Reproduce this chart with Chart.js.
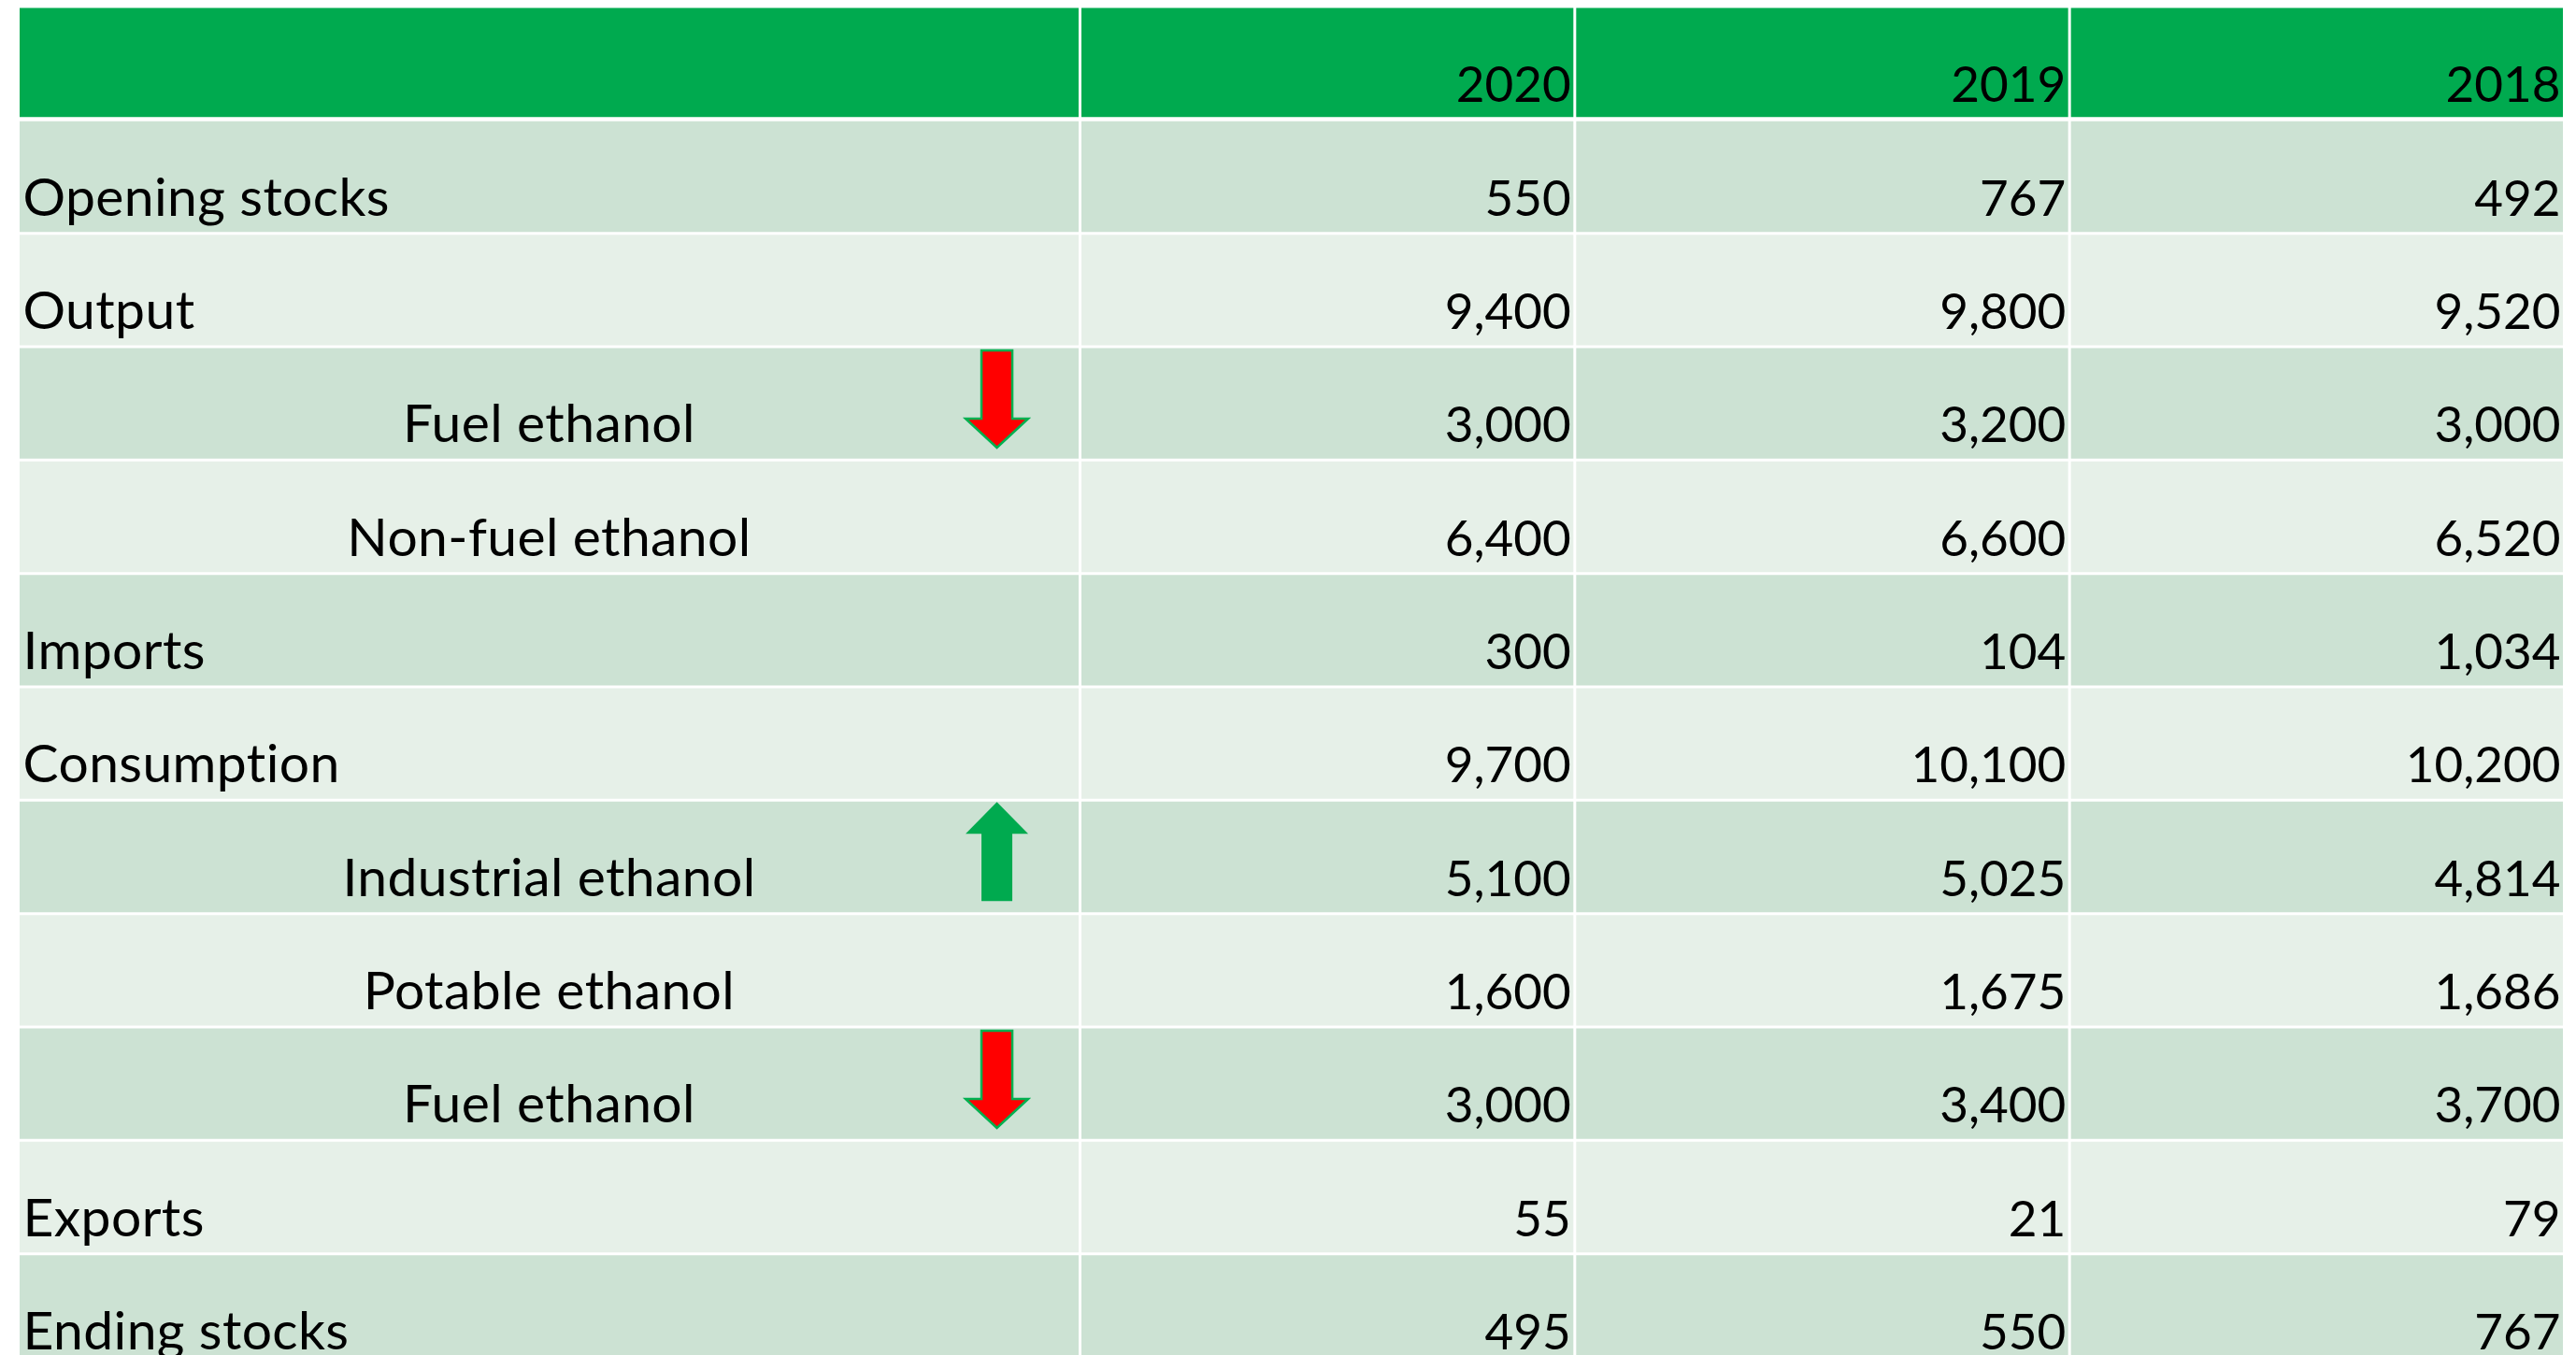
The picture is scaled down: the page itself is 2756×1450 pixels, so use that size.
<!DOCTYPE html>
<html>
<head>
<meta charset="utf-8">
<title>Ethanol balance</title>
<script src="https://cdn.jsdelivr.net/npm/chart.js@4.4.1/dist/chart.umd.min.js"></script>
<style>
  html, body { margin: 0; padding: 0; background: #ffffff; overflow: hidden; }
</style>
</head>
<body>
<canvas id="ethanolTable" width="2756" height="1463"></canvas>
<script>
// years across the top
const years = ["2020", "2019", "2018"];

// row names (indented ones are centred in the first column)
const rowLabels = [
  "Opening stocks",
  "Output",
  "Fuel ethanol",
  "Non-fuel ethanol",
  "Imports",
  "Consumption",
  "Industrial ethanol",
  "Potable ethanol",
  "Fuel ethanol",
  "Exports",
  "Ending stocks",
];
const subRows = [false, false, true, true, false, false, true, true, true, false, false];

// values per year column
const values2020 = [550, 9400, 3000, 6400, 300, 9700, 5100, 1600, 3000, 55, 495];
const values2019 = [767, 9800, 3200, 6600, 104, 10100, 5025, 1675, 3400, 21, 550];
const values2018 = [492, 9520, 3000, 6520, 1034, 10200, 4814, 1686, 3700, 79, 767];

// arrows beside the row names: 1 = up, -1 = down, 0 = none
const change2020 = [0, 0, -1, 0, 0, 0, 1, 0, -1, 0, 0];

const yearValues = [values2020, values2019, values2018];

// layout / style
const labelColWidth = 2.146; // first column width, in year-column units
const arrowAt = 1.978;       // arrow centre on the x scale
const headerGreen = "#00AA4F";
const darkRow = "#CCE2D3";
const lightRow = "#E6F0E8";
const labelFont = "57px Lato, 'Open Sans', sans-serif";
const numberFont = "53px Lato, 'Open Sans', sans-serif";

// one category per table row, header first
const rowKeys = ["header"].concat(rowLabels.map((_, i) => "row" + i));
const columnEdges = [0, labelColWidth, labelColWidth + 1, labelColWidth + 2, labelColWidth + 3];

// every cell is a floating bar spanning its column
const datasets = columnEdges.slice(0, -1).map((start, c) => ({
  data: rowKeys.map(() => [start, columnEdges[c + 1]]),
  backgroundColor: rowKeys.map((_, r) => (r === 0 ? headerGreen : r % 2 === 1 ? darkRow : lightRow)),
  borderColor: "#ffffff",
  borderWidth: rowKeys.map((_, r) =>
    r === 0 ? { top: 1.5, left: 1.5, right: 1.5, bottom: 3 } : 1.5
  ),
  borderSkipped: false,
  inflateAmount: 0,
  grouped: false,
  categoryPercentage: 1,
  barPercentage: 1,
}));

function drawArrow(ctx, cx, rowTop, dir) {
  ctx.save();
  ctx.beginPath();
  if (dir < 0) {
    ctx.moveTo(cx - 16.5, rowTop + 4);
    ctx.lineTo(cx + 16.5, rowTop + 4);
    ctx.lineTo(cx + 16.5, rowTop + 77);
    ctx.lineTo(cx + 33.5, rowTop + 77);
    ctx.lineTo(cx, rowTop + 108);
    ctx.lineTo(cx - 33.5, rowTop + 77);
    ctx.lineTo(cx - 16.5, rowTop + 77);
    ctx.closePath();
    ctx.fillStyle = "#FF0000";
    ctx.fill();
    ctx.lineWidth = 2.5;
    ctx.strokeStyle = "#00B050";
    ctx.stroke();
  } else {
    ctx.moveTo(cx, rowTop + 2);
    ctx.lineTo(cx + 33.5, rowTop + 36);
    ctx.lineTo(cx + 16.5, rowTop + 36);
    ctx.lineTo(cx + 16.5, rowTop + 108);
    ctx.lineTo(cx - 16.5, rowTop + 108);
    ctx.lineTo(cx - 16.5, rowTop + 36);
    ctx.lineTo(cx - 33.5, rowTop + 36);
    ctx.closePath();
    ctx.fillStyle = headerGreen;
    ctx.fill();
  }
  ctx.restore();
}

// texts and arrows, placed with the chart's own scales
const tableText = {
  id: "tableText",
  afterDatasetsDraw(chart) {
    const { ctx } = chart;
    const x = chart.scales.x;
    const y = chart.scales.y;
    const band = y.getPixelForValue(1) - y.getPixelForValue(0);
    const rowBottom = (r) => y.getPixelForValue(r) + band / 2;

    ctx.save();
    ctx.fillStyle = "#000000";
    ctx.textBaseline = "alphabetic";

    // header years
    ctx.font = numberFont;
    ctx.textAlign = "right";
    years.forEach((year, j) => {
      ctx.fillText(year, x.getPixelForValue(columnEdges[j + 2]) - 4, rowBottom(0) - 19);
    });

    rowLabels.forEach((label, i) => {
      const r = i + 1;
      const base = rowBottom(r) - 19;
      if (change2020[i] !== 0) {
        drawArrow(ctx, x.getPixelForValue(arrowAt), rowBottom(r) - band, change2020[i]);
      }
      ctx.fillStyle = "#000000";
      ctx.font = labelFont;
      // a little letter spacing keeps Lato from joining "ti"
      ctx.letterSpacing = "0.4px";
      if (subRows[i]) {
        ctx.textAlign = "center";
        ctx.fillText(label, x.getPixelForValue(labelColWidth / 2), base);
      } else {
        ctx.textAlign = "left";
        ctx.fillText(label, x.getPixelForValue(0) + 5, base);
      }
      ctx.letterSpacing = "0px";
      ctx.font = numberFont;
      ctx.textAlign = "right";
      yearValues.forEach((vals, j) => {
        ctx.fillText(vals[i].toLocaleString("en-US"), x.getPixelForValue(columnEdges[j + 2]) - 4, base);
      });
    });
    ctx.restore();
  },
};

new Chart(document.getElementById("ethanolTable"), {
  type: "bar",
  data: { labels: rowKeys, datasets: datasets },
  options: {
    indexAxis: "y",
    responsive: false,
    animation: false,
    events: [],
    layout: { padding: { top: 7, left: 19.5, right: 12.5, bottom: 0 } },
    scales: {
      x: { type: "linear", min: 0, max: labelColWidth + 3, display: false },
      y: { type: "category", display: false },
    },
    plugins: { legend: { display: false }, tooltip: { enabled: false } },
  },
  plugins: [tableText],
});
</script>
</body>
</html>
